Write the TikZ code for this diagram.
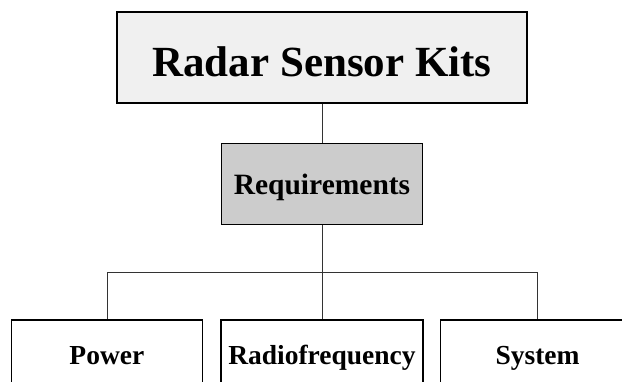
\documentclass[tikz,border=0pt]{standalone}
\usepackage{fontspec}
\setmainfont{Liberation Serif}
\usetikzlibrary{positioning, calc}

\begin{document}
\begin{tikzpicture}[
    x=1pt, y=-1pt,
    font=\bfseries,
    title/.style={
        draw,
        line width=1.6pt,
        fill=black!6,
        minimum width=410pt,
        minimum height=91pt,
        text height=47pt,
        text depth=8pt,
        font=\bfseries\fontsize{43}{50}\selectfont
    },
    group/.style={
        draw,
        line width=1.6pt,
        fill=black!20,
        minimum width=201pt,
        minimum height=81pt,
        text height=27pt,
        text depth=6.4pt,
        font=\bfseries\fontsize{29.5}{35}\selectfont
    },
    leaf/.style={
        draw,
        line width=1.6pt,
        fill=white,
        minimum height=70pt,
        text height=26.2pt,
        text depth=7pt,
        font=\bfseries\fontsize{27.5}{33}\selectfont
    },
    link/.style={line width=0.8pt, draw=black!80}
]
    \useasboundingbox (0,0) rectangle (622,382);

    \node[title] (kits) at (322,57.5) {Radar Sensor Kits};
    \node[group, below=39pt of kits] (req) {Requirements};
    \node[leaf, minimum width=202pt, below=94pt of req] (radio) {Radiofrequency};
    \node[leaf, minimum width=191pt, left=17pt of radio] (power) {Power};
    \node[leaf, minimum width=194pt, right=16pt of radio] (system) {System};

    \coordinate (bus) at ($(req.south)!0.5!(radio.north)$);

    \draw[link] (kits) -- (req);
    \draw[link] (req) -- (radio);
    \draw[link] (power.north) |- (bus) -| (system.north);
\end{tikzpicture}
\end{document}
